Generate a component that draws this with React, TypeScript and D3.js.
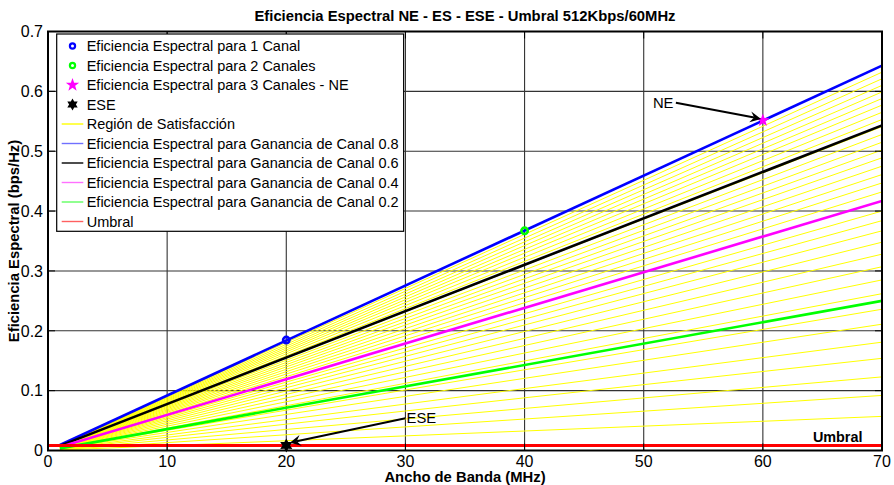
import React, { useEffect, useRef } from 'react';
import * as d3 from 'd3';

// axis ticks
const bandwidthTicks = [0, 10, 20, 30, 40, 50, 60, 70];
const efficiencyTicks = [0, 0.1, 0.2, 0.3, 0.4, 0.5, 0.6, 0.7];

// every line runs straight from 1 MHz to 70 MHz
const lineStartBw = 1;
const lineEndBw = 70;

// spectral efficiency reached at 70 MHz by each line of the satisfaction region
const regionEnds = [
  0.057, 0.092, 0.123, 0.154, 0.181, 0.211, 0.236, 0.262, 0.285, 0.307,
  0.328, 0.348, 0.367, 0.384, 0.4, 0.417, 0.432, 0.447, 0.461, 0.475,
  0.489, 0.502, 0.515, 0.528, 0.541, 0.553, 0.565, 0.577, 0.588, 0.599,
  0.61, 0.621, 0.632, 0.643,
];

// channel gain curves (value at 70 MHz)
const gains = ['0.8', '0.6', '0.4', '0.2'];
const gainEnds = [0.643, 0.543, 0.417, 0.25];
const gainColors = ['#0000ff', '#000000', '#ff00ff', '#00ff00'];

const umbral = 0.00853;

// points [MHz, bps/Hz]
const oneChannel: [number, number] = [20, 0.1845];
const twoChannels: [number, number] = [40, 0.367];
const threeChannelsNE: [number, number] = [60, 0.5515];
const esePoint: [number, number] = [20, 0.00853];

// annotations: text anchor, arrow tail, arrow head
const neText: [number, number] = [52.5, 0.572];
const neArrow: [number, number][] = [[52.7, 0.581], [59.85, 0.554]];
const eseText: [number, number] = [30.1, 0.0464];
const eseArrow: [number, number][] = [[30.0, 0.0538], [20.3, 0.013]];
const umbralText: [number, number] = [64.2, 0.0142];

const legendLabels = [
  'Eficiencia Espectral para 1 Canal',
  'Eficiencia Espectral para 2 Canales',
  'Eficiencia Espectral para 3 Canales - NE',
  'ESE',
  'Región de Satisfacción',
  ...gains.map(g => `Eficiencia Espectral para Ganancia de Canal ${g}`),
  'Umbral',
];

const FONT = '"Liberation Sans", Arial, Helvetica, sans-serif';

function starPath(points: number, outer: number, inner: number) {
  const pts: [number, number][] = [];
  for (let i = 0; i < points * 2; i++) {
    const r = i % 2 === 0 ? outer : inner;
    const a = -Math.PI / 2 + (i * Math.PI) / points;
    pts.push([r * Math.cos(a), r * Math.sin(a)]);
  }
  return 'M' + pts.map(p => p.join(',')).join('L') + 'Z';
}

function App() {
  const ref = useRef<SVGSVGElement | null>(null);

  useEffect(() => {
    const svg = d3.select(ref.current);
    svg.selectAll('*').remove();

    const x = d3.scaleLinear().domain([0, 70]).range([48, 882]);
    const y = d3.scaleLinear().domain([0, 0.7]).range([450.5, 31.5]);
    const [x0, x1] = x.range();
    const [y0, y1] = y.range();

    svg.append('defs').append('clipPath').attr('id', 'plot')
      .append('rect').attr('x', x0).attr('y', y1).attr('width', x1 - x0).attr('height', y0 - y1);

    const plot = svg.append('g').attr('clip-path', 'url(#plot)');

    // grid
    plot.selectAll('.gx').data(bandwidthTicks.slice(1, -1)).join('line')
      .attr('x1', d => x(d)).attr('x2', d => x(d)).attr('y1', y0).attr('y2', y1)
      .attr('stroke', '#333').attr('stroke-width', 1.1);
    plot.selectAll('.gy').data(efficiencyTicks.slice(1, -1)).join('line')
      .attr('y1', d => y(d)).attr('y2', d => y(d)).attr('x1', x0).attr('x2', x1)
      .attr('stroke', '#333').attr('stroke-width', 1.1);

    const line = d3.line<[number, number]>().x(d => x(d[0])).y(d => y(d[1]));
    const seg = (end: number): [number, number][] => [
      [lineStartBw, (end * lineStartBw) / lineEndBw],
      [lineEndBw, end],
    ];

    plot.append('g').selectAll('path').data(regionEnds).join('path')
      .attr('d', d => line(seg(d)))
      .attr('fill', 'none').attr('stroke', '#ffff00').attr('stroke-width', 1);

    plot.append('g').selectAll('path').data(gainEnds).join('path')
      .attr('d', d => line(seg(d)))
      .attr('fill', 'none').attr('stroke', (_, i) => gainColors[i]).attr('stroke-width', 2.6);

    plot.append('line')
      .attr('x1', x(0)).attr('x2', x(70)).attr('y1', y(umbral)).attr('y2', y(umbral))
      .attr('stroke', '#ff0000').attr('stroke-width', 3);

    // markers
    const circle = (p: [number, number], c: string) =>
      svg.append('circle').attr('cx', x(p[0])).attr('cy', y(p[1])).attr('r', 3.2)
        .attr('fill', 'none').attr('stroke', c).attr('stroke-width', 2.6);
    circle(oneChannel, '#0000ff');
    circle(twoChannels, '#00ff00');
    svg.append('path').attr('d', starPath(5, 7, 2.8))
      .attr('transform', `translate(${x(threeChannelsNE[0])},${y(threeChannelsNE[1])})`)
      .attr('fill', '#ff00ff');
    svg.append('path').attr('d', starPath(6, 7, 3.8))
      .attr('transform', `translate(${x(esePoint[0])},${y(esePoint[1])})`)
      .attr('fill', '#000000');

    // axes box and ticks
    const ax = svg.append('g');
    ax.selectAll('.tb').data(bandwidthTicks).join('line')
      .attr('x1', d => x(d)).attr('x2', d => x(d)).attr('y1', y0).attr('y2', y0 - 7)
      .attr('stroke', '#000');
    ax.selectAll('.tt').data(bandwidthTicks).join('line')
      .attr('x1', d => x(d)).attr('x2', d => x(d)).attr('y1', y1).attr('y2', y1 + 7)
      .attr('stroke', '#000');
    ax.selectAll('.tl').data(efficiencyTicks).join('line')
      .attr('y1', d => y(d)).attr('y2', d => y(d)).attr('x1', x0).attr('x2', x0 + 7)
      .attr('stroke', '#000');
    ax.selectAll('.tr').data(efficiencyTicks).join('line')
      .attr('y1', d => y(d)).attr('y2', d => y(d)).attr('x1', x1).attr('x2', x1 - 7)
      .attr('stroke', '#000');
    ax.append('rect').attr('x', x0).attr('y', y1).attr('width', x1 - x0).attr('height', y0 - y1)
      .attr('fill', 'none').attr('stroke', '#000').attr('stroke-width', 2);

    ax.selectAll('.lx').data(bandwidthTicks).join('text')
      .attr('x', d => x(d)).attr('y', 467).attr('text-anchor', 'middle')
      .attr('font-family', FONT).attr('font-size', 16).text(d => d3.format('')(d));
    ax.selectAll('.ly').data(efficiencyTicks).join('text')
      .attr('x', 43).attr('y', d => y(d)).attr('dy', '0.36em').attr('text-anchor', 'end')
      .attr('font-family', FONT).attr('font-size', 16).text(d => d3.format('')(d));

    svg.append('text').attr('x', (x0 + x1) / 2).attr('y', 481.5).attr('text-anchor', 'middle')
      .attr('font-family', FONT).attr('font-size', 14.8).attr('font-weight', 'bold')
      .text('Ancho de Banda (MHz)');
    svg.append('text').attr('transform', `translate(18.5,${(y0 + y1) / 2}) rotate(-90)`)
      .attr('text-anchor', 'middle')
      .attr('font-family', FONT).attr('font-size', 14.8).attr('font-weight', 'bold')
      .text('Eficiencia Espectral (bps/Hz)');
    svg.append('text').attr('x', (x0 + x1) / 2).attr('y', 21).attr('text-anchor', 'middle')
      .attr('font-family', FONT).attr('font-size', 14.8).attr('font-weight', 'bold')
      .text('Eficiencia Espectral NE - ES - ESE - Umbral 512Kbps/60MHz');

    // annotations
    const arrow = (pts: [number, number][]) => {
      const [sx, sy] = [x(pts[0][0]), y(pts[0][1])];
      const [ex, ey] = [x(pts[1][0]), y(pts[1][1])];
      const len = Math.hypot(ex - sx, ey - sy);
      const ux = (ex - sx) / len, uy = (ey - sy) / len;
      const px = -uy, py = ux;
      const L = 11, W = 5.5, N = 7;
      const bx = ex - ux * L, by = ey - uy * L;
      const nx = ex - ux * N, ny = ey - uy * N;
      svg.append('line').attr('x1', sx).attr('y1', sy).attr('x2', nx).attr('y2', ny)
        .attr('stroke', '#000').attr('stroke-width', 2);
      svg.append('path')
        .attr('d', `M${ex},${ey}L${bx + px * W},${by + py * W}L${nx},${ny}L${bx - px * W},${by - py * W}Z`)
        .attr('fill', '#000');
    };
    arrow(neArrow);
    arrow(eseArrow);
    svg.append('text').attr('x', x(neText[0])).attr('y', y(neText[1])).attr('text-anchor', 'end')
      .attr('font-family', FONT).attr('font-size', 14.8).text('NE');
    svg.append('text').attr('x', x(eseText[0])).attr('y', y(eseText[1]))
      .attr('font-family', FONT).attr('font-size', 14.8).text('ESE');
    svg.append('text').attr('x', x(umbralText[0])).attr('y', y(umbralText[1]))
      .attr('font-family', FONT).attr('font-size', 14.4).attr('font-weight', 'bold').text('Umbral');

    // legend
    const lg = svg.append('g');
    const box = lg.append('rect').attr('fill', '#fff').attr('stroke', '#000').attr('stroke-width', 1.2);
    const rowY = (i: number) => 51 + 19.5 * i;
    const texts = lg.selectAll('text').data(legendLabels).join('text')
      .attr('x', 86.7).attr('y', (_, i) => rowY(i))
      .attr('font-family', FONT).attr('font-size', 14.5).text(d => d);
    let maxW = 0;
    texts.each(function () {
      maxW = Math.max(maxW, (this as SVGTextElement).getComputedTextLength());
    });
    box.attr('x', 56.7).attr('y', 34).attr('width', 86.7 + maxW + 5 - 56.7).attr('height', 231.3 - 34);

    const mx = 72.5;
    const my = (i: number) => rowY(i) - 5;
    lg.append('circle').attr('cx', mx).attr('cy', my(0)).attr('r', 2.6)
      .attr('fill', 'none').attr('stroke', '#0000ff').attr('stroke-width', 2.2);
    lg.append('circle').attr('cx', mx).attr('cy', my(1)).attr('r', 2.6)
      .attr('fill', 'none').attr('stroke', '#00ff00').attr('stroke-width', 2.2);
    lg.append('path').attr('d', starPath(5, 7, 2.8))
      .attr('transform', `translate(${mx},${my(2)})`).attr('fill', '#ff00ff');
    lg.append('path').attr('d', starPath(6, 6, 3.4))
      .attr('transform', `translate(${mx},${my(3)})`).attr('fill', '#000');
    const sampleColors = ['#ffff00', '#7070ff', '#000000', '#ff70ff', '#60ff60', '#ff6060'];
    lg.selectAll('.sample').data(sampleColors).join('line')
      .attr('x1', 61.7).attr('x2', 83.3)
      .attr('y1', (_, i) => my(i + 4)).attr('y2', (_, i) => my(i + 4))
      .attr('stroke', d => d).attr('stroke-width', 1.4);
  }, []);

  return (
    <svg ref={ref} width={894} height={485}
      style={{ position: 'absolute', left: 0, top: 0, background: '#fff' }} />
  );
}

export default App;
